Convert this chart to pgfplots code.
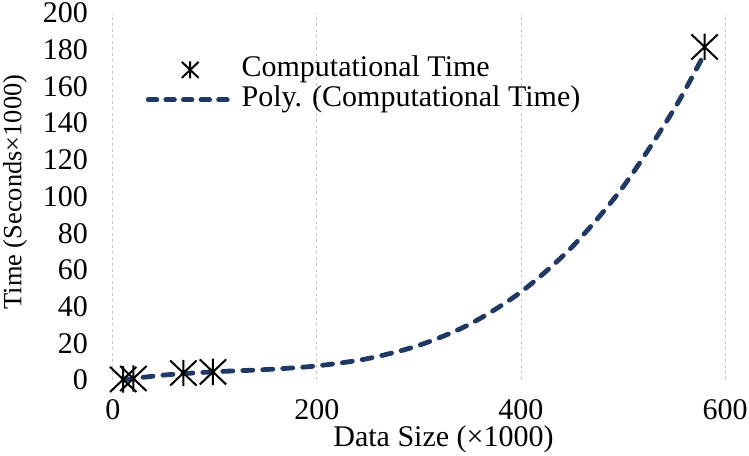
\documentclass[border=0pt]{standalone}
\usepackage{fontspec}
\setmainfont{Liberation Serif}
\usepackage{pgfplots}
\pgfplotsset{compat=1.18}

\definecolor{trendblue}{RGB}{31,56,100}

% Excel style star: an X with a vertical bar
\pgfdeclareplotmark{xstar}{%
  \pgfpathmoveto{\pgfqpoint{0pt}{\pgfplotmarksize}}%
  \pgfpathlineto{\pgfqpoint{0pt}{-\pgfplotmarksize}}%
  \pgfpathmoveto{\pgfqpoint{-\pgfplotmarksize}{.95\pgfplotmarksize}}%
  \pgfpathlineto{\pgfqpoint{\pgfplotmarksize}{-.95\pgfplotmarksize}}%
  \pgfpathmoveto{\pgfqpoint{-\pgfplotmarksize}{-.95\pgfplotmarksize}}%
  \pgfpathlineto{\pgfqpoint{\pgfplotmarksize}{.95\pgfplotmarksize}}%
  \pgfusepathqstroke}

\pgfplotsset{
  starlegend/.style={legend image code/.code={%
    \draw[mark=xstar, mark size=4.2pt, black, line width=0.9pt] plot coordinates {(22pt,0pt)};}},
  linelegend/.style={legend image code/.code={%
    \draw[##1, dash pattern=on 4.3pt off 4.5pt] (1pt,0pt) -- (43pt,0pt);}},
}

\begin{document}
\begin{tikzpicture}
\useasboundingbox (-56.5pt,-37.5pt) rectangle (318pt,190pt);
\begin{axis}[
    at={(0,0)}, anchor=south west,
    scale only axis,
    width=306pt, height=183.5pt,
    xmin=0, xmax=600,
    ymin=0, ymax=200,
    xtick={0,200,400,600},
    ytick={0,20,...,200},
    clip=false,
    axis line style={draw=none},
    major tick length=0pt,
    xmajorgrids=true,
    grid style={black!22, line width=0.5pt, dash pattern=on 1.5pt off 1.5pt},
    font=\fontsize{15pt}{18pt}\selectfont,
    /pgf/number format/assume math mode=true,
    yticklabel style={xshift=-9pt},
    xticklabel style={yshift=-6pt},
    xlabel={Data Size (×1000)},
    ylabel={Time (Seconds×1000)},
    xlabel style={at={(axis description cs:0.54,-0.162)}, anchor=center},
    ylabel style={at={(axis description cs:-0.16,0.512)}, anchor=center,
        font=\fontsize{13.2pt}{16pt}\selectfont},
    legend cell align=left,
    legend style={draw=none, fill=none, inner sep=0pt,
        row sep=0pt, column sep=3.5pt,
        nodes={inner sep=0pt, text height=11pt, text depth=4pt},
        at={(rel axis cs:0.053,0.887)}, anchor=north west,
        font=\fontsize{15pt}{18pt}\selectfont},
]

\addplot[only marks, mark=xstar, mark size=6.6pt,
    mark options={black, line width=1pt}, starlegend]
    coordinates {(10,0.3)(20,0.8)(69,3.8)(98,4.4)(580,181.5)};
\addlegendentry{Computational Time}

\addplot[smooth, trendblue, line width=2.4pt, line cap=round,
    dash pattern=on 5pt off 5pt, linelegend]
    coordinates {(10,0.1)(50,2.7)(100,4.5)(150,5.7)(200,7.7)(250,11.7)(300,18.9)(350,30.5)(400,48.0)(450,72.5)(500,105.2)(550,147.5)(580,178.0)};
\addlegendentry{Poly. (Computational Time)}

\end{axis}
\end{tikzpicture}
\end{document}
